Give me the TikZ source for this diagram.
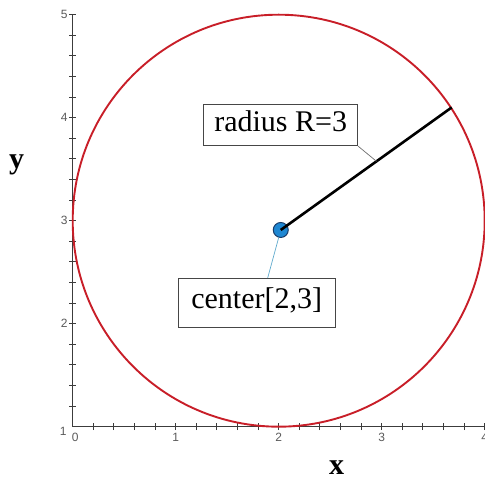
\documentclass[tikz,border=0pt]{standalone}
\usepackage{fontspec}
\setmainfont{Liberation Serif}
\newfontfamily\axisfont{Liberation Sans}
\usetikzlibrary{calc}
\definecolor{circred}{RGB}{200,30,40}
\definecolor{dotblue}{RGB}{30,135,210}
\definecolor{dotedge}{RGB}{25,60,105}
\definecolor{axisgray}{RGB}{60,60,60}
\definecolor{tickgray}{RGB}{90,90,90}
\definecolor{boxgray}{RGB}{70,70,70}
\definecolor{leadgray}{RGB}{110,110,110}
\definecolor{leadcyan}{RGB}{95,170,205}

\begin{document}
\begin{tikzpicture}[x=103pt, y=103pt,
  tag/.style={draw=boxgray, fill=white, inner sep=0pt, line width=0.9pt,
    font=\fontsize{30}{30}\selectfont, text height=20pt, text depth=8pt},
  ticklab/.style={inner sep=0pt, text=tickgray, font=\axisfont\fontsize{12}{12}\selectfont},
  axislab/.style={inner sep=0pt, font=\bfseries\fontsize{30}{30}\selectfont},
  axisline/.style={draw=axisgray, line width=1.2pt},
  tick/.style={draw=axisgray, line width=1pt},
  dot/.style={circle, draw=dotedge, fill=dotblue, line width=1pt,
    minimum size=15pt, inner sep=0pt},
  lead/.style={line width=0.7pt}
]
  \useasboundingbox (-0.7058,0.4825) rectangle (4.003,5.1427);

  % axes and ticks
  \draw[axisline] (0,1) -- (4,1);
  \draw[axisline] (0,1) -- (0,5);
  \foreach \i in {1,...,20} {
    \draw[tick] (\i/5,1) ++(0,-3.5pt) -- ++(0,7pt);
    \draw[tick] (0,1+\i/5) ++(-3.5pt,0) -- ++(7pt,0);
  }
  \node[ticklab, anchor=north] (xt0) at ([xshift=2.6pt, yshift=-6pt]0,1) {0};
  \foreach \k in {1,...,4}
    \node[ticklab, anchor=north] (xt\k) at ([yshift=-6pt]\k,1) {\k};
  \node[ticklab, anchor=east] (yt1) at ([xshift=-6pt, yshift=-5pt]0,1) {1};
  \foreach \k in {2,...,5}
    \node[ticklab, anchor=east] (yt\k) at ([xshift=-5pt]0,\k) {\k};
  \node[axislab] (ylab) at (-0.544,3.541) {y};
  \node[axislab] (xlab) at (2.563,0.599) {x};

  % circle, centre and radius
  \coordinate (circ) at (2,3);
  \draw[circred, line width=1.9pt] (circ) circle [radius=2];
  \node[dot] (ctr) at (2.02,2.91) {};
  \coordinate (rim) at (3.68,4.10);
  \draw[line width=2.6pt] (ctr.center) -- (rim);

  % labels
  \node[tag, minimum width=154pt, minimum height=41pt] (rtag) at (2.019,3.927) {radius R=3};
  \coordinate (rfoot) at ($(ctr)!0.56!(rim)$);
  \draw[lead, leadgray] (rtag.south east) -- (rfoot);
  \node[tag, minimum width=157pt, minimum height=49pt] (ctag) at (1.786,2.201) {center[2,3]};
  \draw[lead, leadcyan] ([xshift=11pt]ctag.north) -- (ctr);
\end{tikzpicture}
\end{document}
